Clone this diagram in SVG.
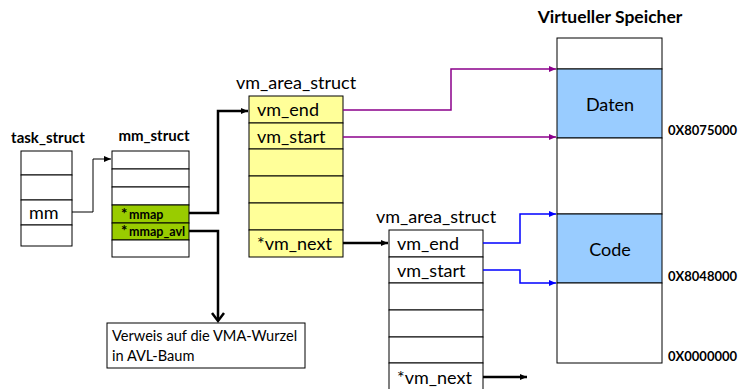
<svg xmlns="http://www.w3.org/2000/svg" width="740" height="389" viewBox="0 0 740 389">
<defs>
<style>
text{font-family:Lato,"Open Sans","Liberation Sans",sans-serif;fill:#000}
.t{font-size:18px}
.b{font-weight:bold;font-size:15px}
.h{font-size:13px;font-weight:bold}
.n{font-size:14.6px}
.m{font-size:12.5px;font-weight:bold}
.cell{stroke:#000;stroke-width:1}
.w{fill:#fff}
.y{fill:#ffff99}
.g{fill:#99cc00}
.bl{fill:#99ccff}
.k{fill:none;stroke:#000;stroke-width:2.5}
.k1{fill:none;stroke:#000;stroke-width:1}
.p{fill:none;stroke:#8b008b;stroke-width:1.5}
.u{fill:none;stroke:#0000ff;stroke-width:1.5}
</style>
<marker id="ak" markerWidth="8" markerHeight="8" refX="7" refY="4" orient="auto" markerUnits="userSpaceOnUse"><path d="M0,1 L7,4 L0,7 z" fill="#000"/></marker>
<marker id="ap" markerWidth="8" markerHeight="8" refX="7" refY="4" orient="auto" markerUnits="userSpaceOnUse"><path d="M0,1 L7,4 L0,7 z" fill="#8b008b"/></marker>
<marker id="au" markerWidth="8" markerHeight="8" refX="7" refY="4" orient="auto" markerUnits="userSpaceOnUse"><path d="M0,1 L7,4 L0,7 z" fill="#0000ff"/></marker>
</defs>

<g id="task_struct">
<text class="b" x="48" y="143" text-anchor="middle">task_struct</text>
<rect class="cell w" x="21" y="151" width="51" height="24"/>
<rect class="cell w" x="21" y="175" width="51" height="25"/>
<rect class="cell w" x="21" y="200" width="51" height="25"/>
<rect class="cell w" x="21" y="225" width="51" height="21"/>
<text class="t" x="29" y="219">mm</text>
</g>

<g id="mm_struct">
<text class="b" x="154" y="141" text-anchor="middle">mm_struct</text>
<rect class="cell w" x="112" y="151" width="77" height="18"/>
<rect class="cell w" x="112" y="169" width="77" height="18"/>
<rect class="cell w" x="112" y="187" width="77" height="18"/>
<rect class="cell g" x="112" y="205" width="77" height="18"/>
<rect class="cell g" x="112" y="223" width="77" height="17"/>
<rect class="cell w" x="112" y="240" width="77" height="17"/>
<text class="m" x="121" y="219"><tspan style="font-size:15px">*</tspan><tspan x="129">mmap</tspan></text>
<text class="m" x="121" y="236"><tspan style="font-size:15px">*</tspan><tspan x="129">mmap_avl</tspan></text>
</g>

<g id="vm_area_struct_1">
<text class="t" x="236" y="89">vm_area_struct</text>
<rect class="cell y" x="249" y="96" width="94" height="27"/>
<rect class="cell y" x="249" y="123" width="94" height="26"/>
<rect class="cell y" x="249" y="149" width="94" height="27"/>
<rect class="cell y" x="249" y="176" width="94" height="27"/>
<rect class="cell y" x="249" y="203" width="94" height="27"/>
<rect class="cell y" x="249" y="230" width="94" height="27"/>
<text class="t" x="257" y="116">vm_end</text>
<text class="t" x="257" y="143">vm_start</text>
<text class="t" x="257" y="250">*vm_next</text>
</g>

<g id="vm_area_struct_2">
<text class="t" x="376" y="223">vm_area_struct</text>
<rect class="cell w" x="389" y="230" width="94" height="27"/>
<rect class="cell w" x="389" y="257" width="94" height="26"/>
<rect class="cell w" x="389" y="283" width="94" height="27"/>
<rect class="cell w" x="389" y="310" width="94" height="27"/>
<rect class="cell w" x="389" y="337" width="94" height="26"/>
<rect class="cell w" x="389" y="363" width="94" height="30"/>
<text class="t" x="397" y="250">vm_end</text>
<text class="t" x="397" y="277">vm_start</text>
<text class="t" x="397" y="384">*vm_next</text>
</g>

<g id="virtueller_speicher">
<text class="b" x="610" y="23" text-anchor="middle" style="font-size:17.5px">Virtueller Speicher</text>
<rect class="cell w" x="557" y="38" width="105" height="31"/>
<rect class="cell bl" x="557" y="69" width="105" height="69"/>
<rect class="cell w" x="557" y="138" width="105" height="76"/>
<rect class="cell bl" x="557" y="214" width="105" height="69"/>
<rect class="cell w" x="557" y="283" width="105" height="80"/>
<text class="t" x="610" y="111" text-anchor="middle">Daten</text>
<text class="t" x="610" y="256" text-anchor="middle">Code</text>
<text class="h" x="668" y="135">0X8075000</text>
<text class="h" x="668" y="281">0X8048000</text>
<text class="h" x="668" y="361">0X0000000</text>
</g>

<g id="note">
<rect class="cell w" x="107" y="323" width="198" height="45"/>
<text class="n" x="112" y="341">Verweis auf die VMA-Wurzel</text>
<text class="n" x="112" y="361">in AVL-Baum</text>
</g>

<g id="connectors">
<path class="k1" d="M72,212 H93 V159 H111" marker-end="url(#ak)"/>
<path class="k" d="M189,213 H218 V111 H248" marker-end="url(#ak)"/>
<path class="k" d="M189,231 H218 V320"/>
<path d="M212,313 L218,321 L224,313" fill="none" stroke="#000" stroke-width="2.5"/>
<path class="k" d="M343,243 H388" marker-end="url(#ak)"/>
<path class="k" d="M483,377 H527" marker-end="url(#ak)"/>
<path class="p" d="M343,110 H451 V69 H556" marker-end="url(#ap)"/>
<path class="p" d="M343,137 H556" marker-end="url(#ap)"/>
<path class="u" d="M483,243 H520 V214 H556" marker-end="url(#au)"/>
<path class="u" d="M483,270 H520 V283 H556" marker-end="url(#au)"/>
</g>
</svg>
